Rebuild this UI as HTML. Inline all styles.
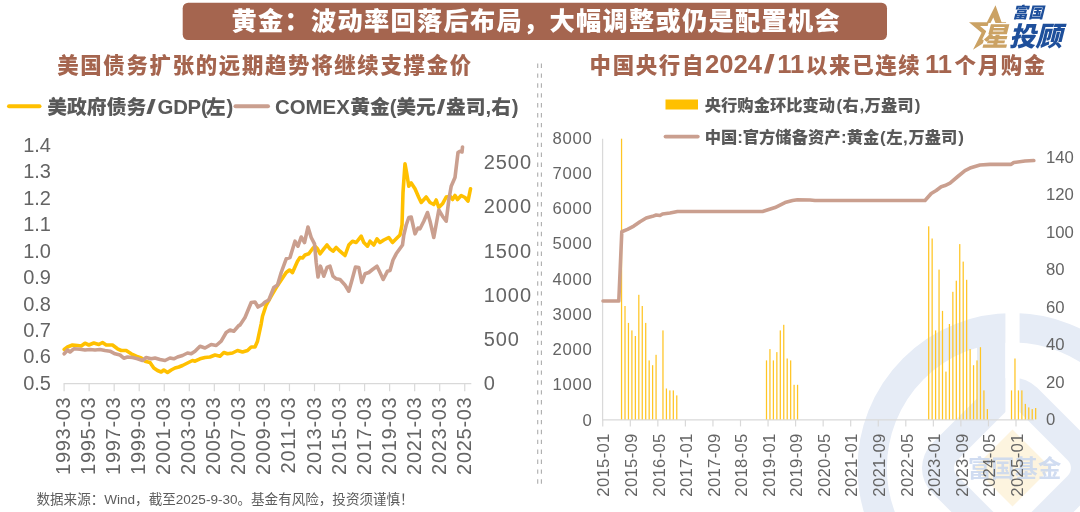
<!DOCTYPE html>
<html lang="zh-CN"><head><meta charset="utf-8"><title>黄金：波动率回落后布局，大幅调整或仍是配置机会</title>
<style>
html,body{margin:0;padding:0;background:#fff;}
body{width:1080px;height:512px;overflow:hidden;position:relative;}
svg{display:block;position:absolute;left:0;top:0;}
text{font-family:"Liberation Sans","Noto Sans CJK SC",sans-serif;}
.cjk{font-family:"Liberation Sans","Noto Sans CJK SC",sans-serif;}
.num{fill:#646464;font-size:20px;}
.numr{fill:#646464;font-size:16.7px;}
.lg{fill:#595959;font-weight:900;}
.ttl{fill:#a5654f;font-weight:900;font-size:21.4px;letter-spacing:1.7px;}
</style></head><body>
<svg width="1080" height="512" viewBox="0 0 1080 512">
<rect width="1080" height="512" fill="#fff"/>
<g id="watermark">
<defs><clipPath id="wmclip"><rect x="800" y="300" width="280" height="212"/></clipPath><mask id="wmmask"><rect x="800" y="290" width="280" height="222" fill="#fff"/><rect x="1005.4" y="300" width="14.2" height="130" fill="#000"/><rect x="968.0" y="423.5" width="89.1" height="89.1" rx="11" transform="rotate(45 1012.5 468)" fill="#000"/></mask></defs>
<g clip-path="url(#wmclip)"><g mask="url(#wmmask)" fill="#e6ecf6">
<circle cx="1012.5" cy="468" r="140.3" fill="none" stroke="#e6ecf6" stroke-width="29.4"/>
<rect x="938.3" y="393.8" width="148.5" height="148.5" rx="35" transform="rotate(45 1012.5 468)"/>
<rect x="977" y="335" width="28.4" height="95"/>
</g>
<rect x="985.3" y="440.8" width="54.4" height="54.4" transform="rotate(45 1012.5 468)" fill="#fdf4df"/>
<text class="cjk" x="968" y="477" font-size="23.3" font-weight="700" fill="#c8d6ee" fill-opacity="0.85">富国基金</text>
</g></g>
<rect x="182.7" y="2.7" width="704.3" height="37.3" rx="5.5" fill="#a5654f"/>
<text class="cjk" x="231.6" y="29.9" font-size="25.2" font-weight="900" fill="#fff" letter-spacing="1.31">黄金：波动率回落后布局，大幅调整或仍是配置机会</text>
<g id="logo">
<defs><clipPath id="starclip"><path d="M955,0 H1008 L1006,23 H988.5 L980.5,52 H955 Z"/></clipPath></defs>
<path clip-path="url(#starclip)" fill-rule="evenodd" fill="#cba264" d="M995.50,5.20 L1001.57,22.23 L1015.88,22.23 L999.49,32.76 L1001.96,49.79 L989.37,39.27 L972.98,49.79 L981.58,32.76 L968.99,22.23 L986.90,22.23 Z M993.28,17.55 L996.71,26.05 L1003.45,26.05 L995.27,31.30 L996.50,39.80 L990.22,34.55 L982.04,39.80 L986.33,31.30 L980.05,26.05 L988.99,26.05 Z"/>
<text class="cjk" x="1012.6" y="17.8" font-size="15.4" font-weight="900" font-style="italic" fill="#1e4f9b" letter-spacing="0.3">富国</text>
<text class="cjk" x="981.5" y="45.6" font-size="26.5" font-weight="900" font-style="italic" fill="#cba264" stroke="#fff" stroke-width="1.6" paint-order="stroke">星</text>
<text class="cjk" x="1009" y="45.5" font-size="26.6" font-weight="900" font-style="italic" fill="#1e4f9b" letter-spacing="0">投顾</text>
</g>
<text class="cjk ttl" x="57.2" y="73.2">美国债务扩张的远期趋势将继续支撑金价</text>
<text class="cjk ttl" y="73.2" font-size="21.4" ><tspan x="589.6">中国央行自</tspan><tspan x="705" font-size="25.6" letter-spacing="0">2024</tspan><tspan x="763.5" font-size="25.6" letter-spacing="0" textLength="11.5" lengthAdjust="spacingAndGlyphs">/</tspan><tspan x="777.3" font-size="25.6" letter-spacing="0">11</tspan><tspan x="806">以来已连续</tspan><tspan x="925" font-size="25.6" letter-spacing="0">11</tspan><tspan x="954.6">个月购金</tspan></text>
<line x1="537.7" y1="63.5" x2="537.7" y2="484" stroke="#b0b0b0" stroke-width="1.15" stroke-dasharray="4.4 5.5"/>
<line x1="541.4" y1="63.5" x2="541.4" y2="484" stroke="#b0b0b0" stroke-width="1.15" stroke-dasharray="4.4 5.5"/>
<line x1="9" y1="106.3" x2="39.5" y2="106.3" stroke="#ffc000" stroke-width="4" stroke-linecap="round"/>
<text class="cjk lg" y="114" font-size="19.8" ><tspan x="47.3">美政府债务</tspan><tspan x="146" font-size="20.4" letter-spacing="0" textLength="10" lengthAdjust="spacingAndGlyphs">/</tspan><tspan x="157.6" font-size="20.4" letter-spacing="-0.3">GDP(</tspan><tspan x="205.8">左</tspan><tspan x="226.6" font-size="20.4">)</tspan></text>
<line x1="235.5" y1="106.3" x2="268" y2="106.3" stroke="#ca9f8f" stroke-width="4" stroke-linecap="round"/>
<text class="cjk lg" y="114" font-size="19.8" ><tspan x="275" font-size="20.4">COMEX</tspan><tspan x="350.3">黄金</tspan><tspan x="389.8" font-size="20.4">(</tspan><tspan x="396.2">美元</tspan><tspan x="436.5" font-size="20.4" letter-spacing="0" textLength="9" lengthAdjust="spacingAndGlyphs">/</tspan><tspan x="446">盎司</tspan><tspan x="485.6" font-size="20.4">,</tspan><tspan x="491.2">右</tspan><tspan x="511.8" font-size="20.4">)</tspan></text>
<path d="M63.6,383.6 H471.3" stroke="#d9d9d9" stroke-width="1.25" fill="none"/>
<line x1="64.10" y1="383.6" x2="64.10" y2="391.2" stroke="#d9d9d9" stroke-width="1.2"/>
<text class="num" font-size="20.7" letter-spacing="0.7" transform="translate(70.10,396.6) rotate(-90)" text-anchor="end">1993-03</text>
<line x1="89.14" y1="383.6" x2="89.14" y2="391.2" stroke="#d9d9d9" stroke-width="1.2"/>
<text class="num" font-size="20.7" letter-spacing="0.7" transform="translate(95.14,396.6) rotate(-90)" text-anchor="end">1995-03</text>
<line x1="114.18" y1="383.6" x2="114.18" y2="391.2" stroke="#d9d9d9" stroke-width="1.2"/>
<text class="num" font-size="20.7" letter-spacing="0.7" transform="translate(120.18,396.6) rotate(-90)" text-anchor="end">1997-03</text>
<line x1="139.22" y1="383.6" x2="139.22" y2="391.2" stroke="#d9d9d9" stroke-width="1.2"/>
<text class="num" font-size="20.7" letter-spacing="0.7" transform="translate(145.22,396.6) rotate(-90)" text-anchor="end">1999-03</text>
<line x1="164.26" y1="383.6" x2="164.26" y2="391.2" stroke="#d9d9d9" stroke-width="1.2"/>
<text class="num" font-size="20.7" letter-spacing="0.7" transform="translate(170.26,396.6) rotate(-90)" text-anchor="end">2001-03</text>
<line x1="189.30" y1="383.6" x2="189.30" y2="391.2" stroke="#d9d9d9" stroke-width="1.2"/>
<text class="num" font-size="20.7" letter-spacing="0.7" transform="translate(195.30,396.6) rotate(-90)" text-anchor="end">2003-03</text>
<line x1="214.34" y1="383.6" x2="214.34" y2="391.2" stroke="#d9d9d9" stroke-width="1.2"/>
<text class="num" font-size="20.7" letter-spacing="0.7" transform="translate(220.34,396.6) rotate(-90)" text-anchor="end">2005-03</text>
<line x1="239.38" y1="383.6" x2="239.38" y2="391.2" stroke="#d9d9d9" stroke-width="1.2"/>
<text class="num" font-size="20.7" letter-spacing="0.7" transform="translate(245.38,396.6) rotate(-90)" text-anchor="end">2007-03</text>
<line x1="264.42" y1="383.6" x2="264.42" y2="391.2" stroke="#d9d9d9" stroke-width="1.2"/>
<text class="num" font-size="20.7" letter-spacing="0.7" transform="translate(270.42,396.6) rotate(-90)" text-anchor="end">2009-03</text>
<line x1="289.46" y1="383.6" x2="289.46" y2="391.2" stroke="#d9d9d9" stroke-width="1.2"/>
<text class="num" font-size="20.7" letter-spacing="0.7" transform="translate(295.46,396.6) rotate(-90)" text-anchor="end">2011-03</text>
<line x1="314.50" y1="383.6" x2="314.50" y2="391.2" stroke="#d9d9d9" stroke-width="1.2"/>
<text class="num" font-size="20.7" letter-spacing="0.7" transform="translate(320.50,396.6) rotate(-90)" text-anchor="end">2013-03</text>
<line x1="339.54" y1="383.6" x2="339.54" y2="391.2" stroke="#d9d9d9" stroke-width="1.2"/>
<text class="num" font-size="20.7" letter-spacing="0.7" transform="translate(345.54,396.6) rotate(-90)" text-anchor="end">2015-03</text>
<line x1="364.58" y1="383.6" x2="364.58" y2="391.2" stroke="#d9d9d9" stroke-width="1.2"/>
<text class="num" font-size="20.7" letter-spacing="0.7" transform="translate(370.58,396.6) rotate(-90)" text-anchor="end">2017-03</text>
<line x1="389.62" y1="383.6" x2="389.62" y2="391.2" stroke="#d9d9d9" stroke-width="1.2"/>
<text class="num" font-size="20.7" letter-spacing="0.7" transform="translate(395.62,396.6) rotate(-90)" text-anchor="end">2019-03</text>
<line x1="414.66" y1="383.6" x2="414.66" y2="391.2" stroke="#d9d9d9" stroke-width="1.2"/>
<text class="num" font-size="20.7" letter-spacing="0.7" transform="translate(420.66,396.6) rotate(-90)" text-anchor="end">2021-03</text>
<line x1="439.70" y1="383.6" x2="439.70" y2="391.2" stroke="#d9d9d9" stroke-width="1.2"/>
<text class="num" font-size="20.7" letter-spacing="0.7" transform="translate(445.70,396.6) rotate(-90)" text-anchor="end">2023-03</text>
<line x1="464.74" y1="383.6" x2="464.74" y2="391.2" stroke="#d9d9d9" stroke-width="1.2"/>
<text class="num" font-size="20.7" letter-spacing="0.7" transform="translate(470.74,396.6) rotate(-90)" text-anchor="end">2025-03</text>
<text class="num" x="51" y="152.0" text-anchor="end">1.4</text>
<text class="num" x="51" y="178.4" text-anchor="end">1.3</text>
<text class="num" x="51" y="204.8" text-anchor="end">1.2</text>
<text class="num" x="51" y="231.2" text-anchor="end">1.1</text>
<text class="num" x="51" y="257.7" text-anchor="end">1.0</text>
<text class="num" x="51" y="284.1" text-anchor="end">0.9</text>
<text class="num" x="51" y="310.5" text-anchor="end">0.8</text>
<text class="num" x="51" y="337.0" text-anchor="end">0.7</text>
<text class="num" x="51" y="363.4" text-anchor="end">0.6</text>
<text class="num" x="51" y="389.8" text-anchor="end">0.5</text>
<text class="num" x="483.7" y="169.3" font-size="20.3" letter-spacing="0.95">2500</text>
<text class="num" x="483.7" y="213.4" font-size="20.3" letter-spacing="0.95">2000</text>
<text class="num" x="483.7" y="257.5" font-size="20.3" letter-spacing="0.95">1500</text>
<text class="num" x="483.7" y="301.6" font-size="20.3" letter-spacing="0.95">1000</text>
<text class="num" x="483.7" y="345.7" font-size="20.3" letter-spacing="0.95">500</text>
<text class="num" x="483.7" y="389.8" font-size="20.3" letter-spacing="0.95">0</text>
<path d="M64.2,349.5 L67.5,347.0 L72.5,345.0 L77.5,345.5 L81.2,346.0 L85.0,343.2 L88.8,345.0 L93.8,343.0 L98.8,344.5 L102.5,342.5 L106.2,345.0 L112.5,345.0 L117.5,348.8 L121.2,350.5 L126.2,350.5 L131.2,353.8 L136.2,356.2 L141.2,358.0 L145.0,361.2 L150.0,362.5 L153.8,368.0 L157.5,370.5 L161.2,372.0 L163.8,370.0 L167.5,372.5 L171.2,370.0 L175.0,368.0 L178.8,367.0 L182.5,365.5 L187.5,363.0 L192.5,360.5 L195.0,361.2 L200.0,358.8 L205.0,357.5 L210.0,357.0 L215.0,355.0 L220.0,356.2 L223.8,352.5 L227.5,353.8 L232.5,353.0 L237.5,350.5 L242.5,352.0 L247.5,350.5 L251.2,347.0 L255.0,347.0 L257.5,341.2 L261.2,323.8 L262.5,316.2 L266.2,305.0 L271.2,296.2 L276.2,287.5 L281.2,280.0 L286.2,272.5 L289.5,270.0 L292.5,272.5 L297.5,261.2 L300.0,257.5 L302.5,258.0 L305.0,255.0 L308.8,253.8 L312.5,248.8 L315.0,246.2 L317.5,248.8 L320.0,253.8 L323.8,248.8 L327.0,245.0 L330.0,248.8 L333.0,251.2 L336.2,247.5 L340.0,251.2 L345.0,255.5 L348.8,245.0 L352.5,241.2 L356.2,242.5 L361.2,236.2 L363.8,242.5 L367.5,246.2 L370.0,241.2 L373.8,245.0 L377.0,238.8 L380.0,242.5 L383.8,240.0 L388.8,237.5 L392.5,242.5 L396.2,238.8 L400.0,235.0 L402.0,225.0 L403.0,192.5 L405.0,163.8 L406.8,173.8 L408.8,186.2 L411.2,183.0 L415.0,188.8 L418.8,197.5 L421.2,202.5 L426.2,197.0 L430.0,202.5 L433.8,204.5 L436.2,200.0 L438.8,207.5 L442.5,203.8 L446.2,197.0 L450.0,196.2 L452.5,199.5 L455.0,195.5 L457.5,199.5 L461.2,195.5 L465.0,197.5 L468.0,201.2 L470.5,188.8" fill="none" stroke="#ffc000" stroke-width="3.6" stroke-linejoin="round" stroke-linecap="round"/>
<path d="M64.2,353.8 L67.5,350.0 L70.0,352.0 L73.8,348.8 L80.0,349.2 L85.0,350.0 L90.0,349.5 L95.0,350.0 L100.0,349.5 L105.0,350.5 L110.0,351.2 L115.0,353.8 L120.0,355.0 L123.8,358.2 L127.5,357.0 L132.5,357.5 L137.5,358.8 L142.5,360.5 L146.2,357.5 L151.2,358.8 L155.0,358.0 L160.0,359.5 L165.0,360.5 L170.0,358.0 L173.8,358.8 L177.5,357.0 L182.5,355.5 L187.5,353.0 L191.2,353.8 L195.0,351.2 L200.0,346.2 L205.0,348.0 L211.2,344.5 L216.2,345.5 L221.2,341.2 L226.2,332.5 L230.0,330.0 L233.8,331.2 L238.8,325.5 L240.0,325.0 L245.0,317.5 L251.2,302.5 L255.0,302.0 L258.0,307.0 L262.5,304.5 L265.0,302.0 L268.8,300.0 L273.8,287.5 L277.5,285.0 L281.2,272.5 L286.2,258.8 L290.0,257.5 L295.0,241.2 L298.0,246.2 L301.2,237.0 L304.5,242.5 L308.0,227.0 L311.2,237.5 L314.5,243.8 L316.2,262.5 L318.0,277.0 L320.5,266.2 L323.8,276.2 L327.0,267.5 L330.0,266.2 L333.0,276.2 L336.2,278.8 L340.0,279.5 L345.0,285.0 L348.8,291.2 L352.0,280.0 L355.5,267.0 L358.8,267.5 L361.8,282.5 L365.0,273.8 L368.8,272.5 L372.5,269.5 L377.0,266.2 L380.0,272.5 L383.2,279.5 L387.5,271.2 L390.0,270.5 L393.0,260.0 L396.2,253.8 L402.5,245.0 L403.8,235.0 L406.2,225.0 L408.8,217.5 L411.2,217.0 L415.0,233.8 L418.0,228.0 L420.0,228.8 L423.8,221.2 L427.5,212.5 L430.0,221.2 L433.8,237.5 L438.8,210.0 L442.5,216.2 L446.2,221.2 L448.8,200.0 L451.2,186.2 L455.0,177.5 L458.0,152.5 L460.0,151.2 L462.0,152.0 L462.5,147.0" fill="none" stroke="#ca9f8f" stroke-width="3.6" stroke-linejoin="round" stroke-linecap="round"/>
<rect x="665.5" y="99.5" width="32.5" height="10" fill="#ffc000"/>
<text class="cjk lg" y="110.8" font-size="16.3" ><tspan x="704.8">央行购金环比变动</tspan><tspan x="836.6" font-size="17">(</tspan><tspan x="842.6">右</tspan><tspan x="859.4" font-size="17">,</tspan><tspan x="864.6">万盎司</tspan><tspan x="914.8" font-size="17">)</tspan></text>
<line x1="665.5" y1="136.6" x2="697.8" y2="136.6" stroke="#ca9f8f" stroke-width="3.8" stroke-linecap="round"/>
<text class="cjk lg" y="143" font-size="16.3" ><tspan x="704.8">中国</tspan><tspan x="737.3" font-size="17">:</tspan><tspan x="742.8">官方储备资产</tspan><tspan x="841" font-size="17">:</tspan><tspan x="846.8">黄金</tspan><tspan x="880" font-size="17">(</tspan><tspan x="886.3">左</tspan><tspan x="903" font-size="17">,</tspan><tspan x="908.5">万盎司</tspan><tspan x="958.3" font-size="17">)</tspan></text>
<path d="M602.6,138.7 V419.9 H1033.8" stroke="#d9d9d9" stroke-width="1.25" fill="none"/>
<line x1="602.75" y1="419.9" x2="602.75" y2="426.4" stroke="#d9d9d9" stroke-width="1.2"/>
<text class="numr" font-size="16.9" letter-spacing="0.3" transform="translate(609.45,433.3) rotate(-90)" text-anchor="end">2015-01</text>
<line x1="630.30" y1="419.9" x2="630.30" y2="426.4" stroke="#d9d9d9" stroke-width="1.2"/>
<text class="numr" font-size="16.9" letter-spacing="0.3" transform="translate(637.00,433.3) rotate(-90)" text-anchor="end">2015-09</text>
<line x1="657.85" y1="419.9" x2="657.85" y2="426.4" stroke="#d9d9d9" stroke-width="1.2"/>
<text class="numr" font-size="16.9" letter-spacing="0.3" transform="translate(664.55,433.3) rotate(-90)" text-anchor="end">2016-05</text>
<line x1="685.40" y1="419.9" x2="685.40" y2="426.4" stroke="#d9d9d9" stroke-width="1.2"/>
<text class="numr" font-size="16.9" letter-spacing="0.3" transform="translate(692.10,433.3) rotate(-90)" text-anchor="end">2017-01</text>
<line x1="712.95" y1="419.9" x2="712.95" y2="426.4" stroke="#d9d9d9" stroke-width="1.2"/>
<text class="numr" font-size="16.9" letter-spacing="0.3" transform="translate(719.65,433.3) rotate(-90)" text-anchor="end">2017-09</text>
<line x1="740.50" y1="419.9" x2="740.50" y2="426.4" stroke="#d9d9d9" stroke-width="1.2"/>
<text class="numr" font-size="16.9" letter-spacing="0.3" transform="translate(747.20,433.3) rotate(-90)" text-anchor="end">2018-05</text>
<line x1="768.05" y1="419.9" x2="768.05" y2="426.4" stroke="#d9d9d9" stroke-width="1.2"/>
<text class="numr" font-size="16.9" letter-spacing="0.3" transform="translate(774.75,433.3) rotate(-90)" text-anchor="end">2019-01</text>
<line x1="795.60" y1="419.9" x2="795.60" y2="426.4" stroke="#d9d9d9" stroke-width="1.2"/>
<text class="numr" font-size="16.9" letter-spacing="0.3" transform="translate(802.30,433.3) rotate(-90)" text-anchor="end">2019-09</text>
<line x1="823.15" y1="419.9" x2="823.15" y2="426.4" stroke="#d9d9d9" stroke-width="1.2"/>
<text class="numr" font-size="16.9" letter-spacing="0.3" transform="translate(829.85,433.3) rotate(-90)" text-anchor="end">2020-05</text>
<line x1="850.70" y1="419.9" x2="850.70" y2="426.4" stroke="#d9d9d9" stroke-width="1.2"/>
<text class="numr" font-size="16.9" letter-spacing="0.3" transform="translate(857.40,433.3) rotate(-90)" text-anchor="end">2021-01</text>
<line x1="878.25" y1="419.9" x2="878.25" y2="426.4" stroke="#d9d9d9" stroke-width="1.2"/>
<text class="numr" font-size="16.9" letter-spacing="0.3" transform="translate(884.95,433.3) rotate(-90)" text-anchor="end">2021-09</text>
<line x1="905.80" y1="419.9" x2="905.80" y2="426.4" stroke="#d9d9d9" stroke-width="1.2"/>
<text class="numr" font-size="16.9" letter-spacing="0.3" transform="translate(912.50,433.3) rotate(-90)" text-anchor="end">2022-05</text>
<line x1="933.35" y1="419.9" x2="933.35" y2="426.4" stroke="#d9d9d9" stroke-width="1.2"/>
<text class="numr" font-size="16.9" letter-spacing="0.3" transform="translate(940.05,433.3) rotate(-90)" text-anchor="end">2023-01</text>
<line x1="960.90" y1="419.9" x2="960.90" y2="426.4" stroke="#d9d9d9" stroke-width="1.2"/>
<text class="numr" font-size="16.9" letter-spacing="0.3" transform="translate(967.60,433.3) rotate(-90)" text-anchor="end">2023-09</text>
<line x1="988.45" y1="419.9" x2="988.45" y2="426.4" stroke="#d9d9d9" stroke-width="1.2"/>
<text class="numr" font-size="16.9" letter-spacing="0.3" transform="translate(995.15,433.3) rotate(-90)" text-anchor="end">2024-05</text>
<line x1="1016.00" y1="419.9" x2="1016.00" y2="426.4" stroke="#d9d9d9" stroke-width="1.2"/>
<text class="numr" font-size="16.9" letter-spacing="0.3" transform="translate(1022.70,433.3) rotate(-90)" text-anchor="end">2025-01</text>
<text class="numr" x="592.5" y="143.6" text-anchor="end" letter-spacing="0.7">8000</text>
<text class="numr" x="592.5" y="178.8" text-anchor="end" letter-spacing="0.7">7000</text>
<text class="numr" x="592.5" y="214.1" text-anchor="end" letter-spacing="0.7">6000</text>
<text class="numr" x="592.5" y="249.3" text-anchor="end" letter-spacing="0.7">5000</text>
<text class="numr" x="592.5" y="284.6" text-anchor="end" letter-spacing="0.7">4000</text>
<text class="numr" x="592.5" y="319.8" text-anchor="end" letter-spacing="0.7">3000</text>
<text class="numr" x="592.5" y="355.0" text-anchor="end" letter-spacing="0.7">2000</text>
<text class="numr" x="592.5" y="390.3" text-anchor="end" letter-spacing="0.7">1000</text>
<text class="numr" x="592.5" y="425.5" text-anchor="end" letter-spacing="0.7">0</text>
<text class="numr" x="1046" y="162.5">140</text>
<text class="numr" x="1046" y="200.0">120</text>
<text class="numr" x="1046" y="237.5">100</text>
<text class="numr" x="1046" y="275.0">80</text>
<text class="numr" x="1046" y="312.5">60</text>
<text class="numr" x="1046" y="350.0">40</text>
<text class="numr" x="1046" y="387.5">20</text>
<text class="numr" x="1046" y="425.0">0</text>
<rect x="620.93" y="138.7" width="1.25" height="280.7" fill="#ffc524"/>
<rect x="624.38" y="306.0" width="1.25" height="113.4" fill="#ffc524"/>
<rect x="627.83" y="322.9" width="1.25" height="96.5" fill="#ffc524"/>
<rect x="631.28" y="330.4" width="1.25" height="89.0" fill="#ffc524"/>
<rect x="634.73" y="336.0" width="1.25" height="83.4" fill="#ffc524"/>
<rect x="638.19" y="294.8" width="1.25" height="124.6" fill="#ffc524"/>
<rect x="641.64" y="306.0" width="1.25" height="113.4" fill="#ffc524"/>
<rect x="645.09" y="322.9" width="1.25" height="96.5" fill="#ffc524"/>
<rect x="648.54" y="360.4" width="1.25" height="59.0" fill="#ffc524"/>
<rect x="651.99" y="365.2" width="1.25" height="54.1" fill="#ffc524"/>
<rect x="655.44" y="354.8" width="1.25" height="64.6" fill="#ffc524"/>
<rect x="662.34" y="330.4" width="1.25" height="89.0" fill="#ffc524"/>
<rect x="665.79" y="388.5" width="1.25" height="30.9" fill="#ffc524"/>
<rect x="669.24" y="390.4" width="1.25" height="29.0" fill="#ffc524"/>
<rect x="672.70" y="390.4" width="1.25" height="29.0" fill="#ffc524"/>
<rect x="676.15" y="395.4" width="1.25" height="24.0" fill="#ffc524"/>
<rect x="765.87" y="360.4" width="1.25" height="59.0" fill="#ffc524"/>
<rect x="769.32" y="349.1" width="1.25" height="70.3" fill="#ffc524"/>
<rect x="772.77" y="360.4" width="1.25" height="59.0" fill="#ffc524"/>
<rect x="776.23" y="352.1" width="1.25" height="67.3" fill="#ffc524"/>
<rect x="779.68" y="330.4" width="1.25" height="89.0" fill="#ffc524"/>
<rect x="783.13" y="324.8" width="1.25" height="94.6" fill="#ffc524"/>
<rect x="786.58" y="358.5" width="1.25" height="60.9" fill="#ffc524"/>
<rect x="790.03" y="360.4" width="1.25" height="59.0" fill="#ffc524"/>
<rect x="793.48" y="384.8" width="1.25" height="34.6" fill="#ffc524"/>
<rect x="796.93" y="384.8" width="1.25" height="34.6" fill="#ffc524"/>
<rect x="928.07" y="226.3" width="1.25" height="193.1" fill="#ffc524"/>
<rect x="931.52" y="238.5" width="1.25" height="180.9" fill="#ffc524"/>
<rect x="934.97" y="330.4" width="1.25" height="89.0" fill="#ffc524"/>
<rect x="938.42" y="269.6" width="1.25" height="149.8" fill="#ffc524"/>
<rect x="941.87" y="310.9" width="1.25" height="108.5" fill="#ffc524"/>
<rect x="945.32" y="371.6" width="1.25" height="47.8" fill="#ffc524"/>
<rect x="948.78" y="324.0" width="1.25" height="95.4" fill="#ffc524"/>
<rect x="952.23" y="291.8" width="1.25" height="127.6" fill="#ffc524"/>
<rect x="955.68" y="280.7" width="1.25" height="138.7" fill="#ffc524"/>
<rect x="959.13" y="244.1" width="1.25" height="175.3" fill="#ffc524"/>
<rect x="962.58" y="261.6" width="1.25" height="157.8" fill="#ffc524"/>
<rect x="966.03" y="279.8" width="1.25" height="139.6" fill="#ffc524"/>
<rect x="969.48" y="349.1" width="1.25" height="70.3" fill="#ffc524"/>
<rect x="972.93" y="365.2" width="1.25" height="54.1" fill="#ffc524"/>
<rect x="976.38" y="360.4" width="1.25" height="59.0" fill="#ffc524"/>
<rect x="979.83" y="347.2" width="1.25" height="72.1" fill="#ffc524"/>
<rect x="983.29" y="390.4" width="1.25" height="29.0" fill="#ffc524"/>
<rect x="986.74" y="409.1" width="1.25" height="10.3" fill="#ffc524"/>
<rect x="1010.89" y="390.4" width="1.25" height="29.0" fill="#ffc524"/>
<rect x="1014.34" y="358.5" width="1.25" height="60.9" fill="#ffc524"/>
<rect x="1017.80" y="390.4" width="1.25" height="29.0" fill="#ffc524"/>
<rect x="1021.25" y="390.4" width="1.25" height="29.0" fill="#ffc524"/>
<rect x="1024.70" y="403.9" width="1.25" height="15.5" fill="#ffc524"/>
<rect x="1028.15" y="407.4" width="1.25" height="12.0" fill="#ffc524"/>
<rect x="1031.60" y="409.1" width="1.25" height="10.3" fill="#ffc524"/>
<rect x="1035.05" y="408.0" width="1.25" height="11.4" fill="#ffc524"/>
<path transform="translate(0,0.55)" d="M603.0,300.5 L618.8,300.5 L621.8,231.2 L627.5,228.8 L633.8,225.5 L640.0,221.2 L646.2,217.5 L652.5,215.8 L656.2,214.5 L660.0,215.0 L662.5,213.5 L670.0,212.5 L677.5,211.0 L690.0,211.0 L762.5,211.0 L775.0,207.0 L785.0,202.0 L792.5,200.0 L797.5,199.2 L810.0,199.5 L815.0,200.0 L925.0,200.0 L931.2,193.0 L936.2,190.0 L941.2,186.2 L945.0,185.0 L950.0,182.5 L957.5,176.2 L965.0,170.0 L970.0,167.5 L980.0,164.5 L990.0,163.8 L1011.2,163.8 L1013.8,162.0 L1025.0,160.5 L1033.8,160.0" fill="none" stroke="#ca9f8f" stroke-width="3.6" stroke-linejoin="round" stroke-linecap="round"/>
<text class="cjk" x="36.5" y="503.8" font-size="13.55" fill="#5c5c5c" font-weight="400">数据来源：Wind，截至2025-9-30。基金有风险，投资须谨慎！</text>
</svg></body></html>
